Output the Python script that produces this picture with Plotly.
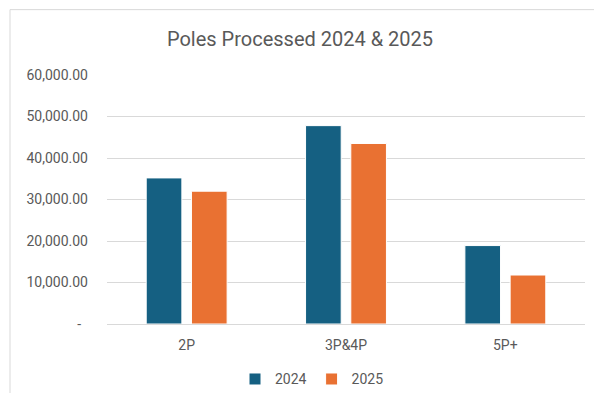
import plotly.graph_objects as go

categories = ["2P", "3P&4P", "5P+"]
series_names = ["2024", "2025"]
values_2024 = [35200, 47800, 18900]
values_2025 = [32000, 43500, 11800]
y_tickvals = [0, 10000, 20000, 30000, 40000, 50000, 60000]
y_ticktext = ["-\u00a0\u00a0", "10,000.00", "20,000.00", "30,000.00", "40,000.00", "50,000.00", "60,000.00"]

colors = ["#156082", "#E97132"]
font_fam = "Roboto, Liberation Sans, Arial, sans-serif"
gray = "#595959"

fig = go.Figure()
for name, vals, c in zip(series_names, [values_2024, values_2025], colors):
    fig.add_trace(go.Bar(x=categories, y=vals, name=name,
                         marker=dict(color=c, line=dict(color="white", width=1))))

OFF = 8  # page body margin on every side
W, H = 602 - 2 * OFF, 401 - 2 * OFF
ml = 107 - OFF
mr = W - (585 - OFF)
mt = 75 - OFF
mb = H - (324.5 - OFF)
pw, ph = W - ml - mr, H - mt - mb

def px_to_paper_x(px):
    return (px - OFF - ml) / pw

def px_to_paper_y(py):
    return (H - mb - (py - OFF)) / ph

fig.update_layout(
    width=W, height=H,
    margin=dict(l=ml, r=mr, t=mt, b=mb, autoexpand=False),
    paper_bgcolor="white", plot_bgcolor="white",
    barmode="group", bargap=0.432, bargroupgap=0.212,
    font=dict(family=font_fam, size=14, color=gray),
    title=dict(text="Poles Processed 2024 & 2025", x=(300 - OFF) / W, xref="container",
               y=1 - (39 - OFF) / H, yref="container", yanchor="middle", xanchor="center",
               font=dict(family=font_fam, size=20, color=gray)),
    legend=dict(orientation="h", x=px_to_paper_x(312), xanchor="center",
                y=px_to_paper_y(380), yanchor="middle",
                font=dict(size=14, color=gray), itemwidth=30,
                bgcolor="rgba(0,0,0,0)"),
    xaxis=dict(showgrid=False, showline=True, linecolor="#d9d9d9", linewidth=1,
               ticks="", ticklabelstandoff=8, tickfont=dict(size=14, color=gray)),
    yaxis=dict(range=[0, 60000], tickvals=y_tickvals, ticktext=y_ticktext,
               showgrid=True, gridcolor="#d9d9d9", gridwidth=1,
               zeroline=False, showline=False, ticks="", ticklabelstandoff=18,
               tickfont=dict(size=14, color=gray)),
    shapes=[dict(type="rect", xref="paper", yref="paper",
                 x0=px_to_paper_x(10), x1=px_to_paper_x(650),
                 y0=px_to_paper_y(450), y1=px_to_paper_y(9.5),
                 line=dict(color="#d9d9d9", width=1), fillcolor="rgba(0,0,0,0)",
                 layer="below")],
)

fig.write_html("out.html")
